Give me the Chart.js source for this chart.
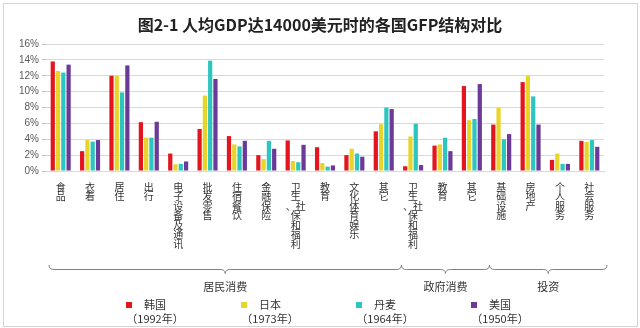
<!DOCTYPE html>
<html>
<head>
<meta charset="utf-8">
<script src="https://cdn.jsdelivr.net/npm/chart.js@4/dist/chart.umd.min.js"></script>
<style>
  html, body { margin: 0; padding: 0; background: #fff; }
  #wrap { position: relative; width: 640px; height: 328px; }
</style>
</head>
<body>
<div id="wrap"><canvas id="gfpChart" width="640" height="328"></canvas></div>
<script>
const categories = ['食品', '衣着', '居住', '出行', '电子设备及通讯', '批发零售', '住宿餐饮', '金融保险',
    '卫生、社保和福利', '教育', '文化体育娱乐', '其它',
    '卫生、社保和福利', '教育', '其它',
    '基础设施', '房地产', '个人服务', '社会服务'];

const countries = ['韩国', '日本', '丹麦', '美国'];
const countryYears = ['（1992年）', '（1973年）', '（1964年）', '（1950年）'];
const countryColors = ['#e3161f', '#e8d52a', '#2dc5c0', '#6b3a98'];

const korea   = [13.8, 2.5, 12.0, 6.15, 2.2, 5.3, 4.4, 2.0, 3.85, 3.0, 2.0, 5.0, 0.6, 3.2, 10.7, 5.85, 11.2, 1.4, 3.8];
const japan   = [12.6, 3.9, 12.0, 4.2, 0.85, 9.5, 3.35, 1.5, 1.25, 1.0, 2.8, 5.9, 4.35, 3.35, 6.4, 7.95, 12.0, 2.2, 3.65];
const denmark = [12.4, 3.7, 9.9, 4.2, 0.9, 13.9, 3.1, 3.8, 1.1, 0.55, 2.2, 8.0, 5.95, 4.2, 6.55, 4.0, 9.4, 0.9, 3.9];
const usa     = [13.4, 3.9, 13.3, 6.2, 1.2, 11.6, 3.8, 2.8, 3.3, 0.7, 1.8, 7.8, 0.75, 2.5, 10.95, 4.65, 5.85, 0.9, 3.05];

const groupNames = ['居民消费', '政府消费', '投资'];
const groupFirst = [0, 12, 15];
const groupLast = [11, 14, 18];

const yTicks = [0, 2, 4, 6, 8, 10, 12, 14, 16];

const cjk = '"Noto Sans CJK SC", "Noto Sans", sans-serif';

// vertical labels: one character per line, the enumeration comma stays with the next char
function verticalLabel(text) {
    const lines = [];
    let carry = '';
    for (const ch of Array.from(text)) {
        if (ch === '、') { carry = ch; continue; }
        lines.push(carry + ch);
        carry = '';
    }
    return lines;
}

const decorations = {
    id: 'decorations',
    afterDraw(chart) {
        const ctx = chart.ctx;
        const x = chart.scales.x;
        ctx.save();

        // frame
        ctx.strokeStyle = '#d4d4d4';
        ctx.lineWidth = 1;
        ctx.strokeRect(3.5, 3.5, 634, 323);

        // title
        ctx.fillStyle = '#222';
        ctx.font = 'bold 16px ' + cjk;
        ctx.textAlign = 'center';
        ctx.textBaseline = 'middle';
        ctx.fillText('图2-1 人均GDP达14000美元时的各国GFP结构对比', 320, 25);

        // braces + group names
        const w = x.getPixelForValue(1) - x.getPixelForValue(0);
        ctx.strokeStyle = '#808080';
        ctx.lineWidth = 1;
        for (let g = 0; g < groupNames.length; g++) {
            const x1 = x.getPixelForValue(groupFirst[g]) - w / 2 + 3;
            const x2 = x.getPixelForValue(groupLast[g]) + w / 2 + 3;
            const xm = (x1 + x2) / 2;
            const yTop = 265, yLine = 269.5, yTip = 273.5, r = 5;
            ctx.beginPath();
            ctx.moveTo(x1, yTop);
            ctx.quadraticCurveTo(x1, yLine, x1 + r, yLine);
            ctx.lineTo(xm - r, yLine);
            ctx.quadraticCurveTo(xm, yLine, xm, yTip);
            ctx.quadraticCurveTo(xm, yLine, xm + r, yLine);
            ctx.lineTo(x2 - r, yLine);
            ctx.quadraticCurveTo(x2, yLine, x2, yTop);
            ctx.stroke();

            ctx.fillStyle = '#333';
            ctx.font = '11px ' + cjk;
            ctx.fillText(groupNames[g], xm, 287);
        }

        // legend
        chart.data.datasets.forEach((ds, i) => {
            const cx = 155 + i * 115;
            ctx.fillStyle = ds.backgroundColor;
            ctx.fillRect(cx - 29, 302, 6, 6);
            ctx.fillStyle = '#333';
            ctx.font = '11px ' + cjk;
            ctx.fillText(ds.label, cx, 305);
            ctx.fillText(countryYears[i], cx, 319);
        });

        ctx.restore();
    }
};

new Chart(document.getElementById('gfpChart'), {
    type: 'bar',
    data: {
        labels: categories.map(verticalLabel),
        datasets: [
            { label: countries[0], data: korea, backgroundColor: countryColors[0] },
            { label: countries[1], data: japan, backgroundColor: countryColors[1] },
            { label: countries[2], data: denmark, backgroundColor: countryColors[2] },
            { label: countries[3], data: usa, backgroundColor: countryColors[3] }
        ]
    },
    options: {
        responsive: false,
        animation: false,
        devicePixelRatio: 1,
        layout: { padding: { top: 44, left: 0, right: 36, bottom: 0 } },
        datasets: { bar: { categoryPercentage: 0.72, barPercentage: 0.8 } },
        scales: {
            x: {
                grid: { display: false, drawTicks: false },
                border: { color: '#d9d9d9' },
                ticks: {
                    autoSkip: false,
                    maxRotation: 0,
                    minRotation: 0,
                    padding: 11,
                    color: '#333',
                    font: { family: cjk, size: 10, lineHeight: 0.95 }
                },
                afterFit(scale) { scale.height = 157; }
            },
            y: {
                min: 0,
                max: 16,
                afterBuildTicks(scale) { scale.ticks = yTicks.map(v => ({ value: v })); },
                grid: { color: '#d9d9d9', tickLength: 4, tickColor: '#bfbfbf' },
                border: { display: false },
                ticks: {
                    padding: 3,
                    color: '#595959',
                    font: { family: '"Liberation Sans", Arial, sans-serif', size: 10 },
                    callback: v => v + '%'
                },
                afterFit(scale) { scale.width = 46; }
            }
        },
        plugins: {
            legend: { display: false },
            tooltip: { enabled: false }
        }
    },
    plugins: [decorations]
});
</script>
</body>
</html>
